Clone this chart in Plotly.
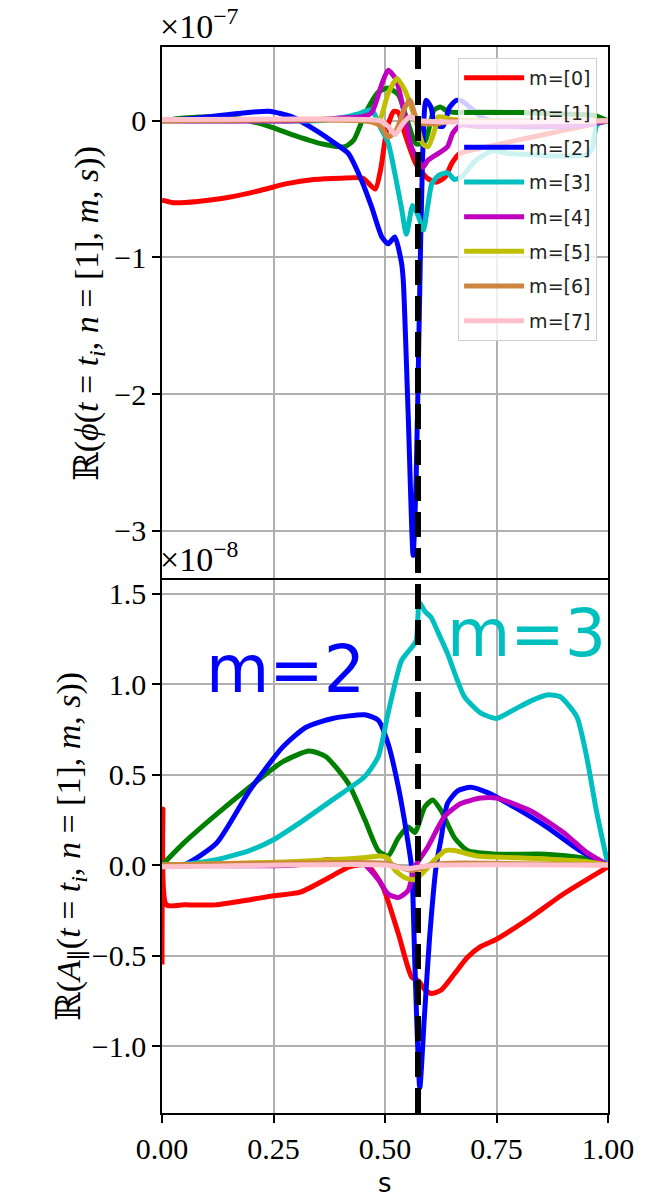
import plotly.graph_objects as go
from plotly.subplots import make_subplots

# ---- radial position of the resonant surface ----
S_RES = 0.574

LABELS = ["m=[0]", "m=[1]", "m=[2]", "m=[3]", "m=[4]", "m=[5]", "m=[6]", "m=[7]"]
COLORS = ["#ff0000", "#008000", "#0000ff", "#00bfbf", "#bf00bf", "#bfbf00", "#cd853f", "#ffc0cb"]

# ---- Re(phi) per poloidal mode, units of 1e-7 ----
PHI_S0 = [0, 0.03, 0.08, 0.15, 0.22, 0.28, 0.34, 0.40, 0.45, 0.478, 0.49, 0.505, 0.52, 0.53, 0.545, 0.57, 0.595, 0.615, 0.635, 0.65, 0.667, 0.70, 0.80, 0.90, 0.96, 1.0]
PHI_M0 = [-0.58, -0.60, -0.59, -0.56, -0.51, -0.46, -0.43, -0.42, -0.42, -0.50, -0.36, -0.05, 0.07, 0.06, -0.10, -0.32, -0.42, -0.45, -0.41, -0.31, -0.24, -0.21, -0.14, -0.07, -0.03, 0.0]

PHI_S1 = [0, 0.05, 0.12, 0.18, 0.24, 0.30, 0.36, 0.41, 0.43, 0.455, 0.485, 0.507, 0.53, 0.55, 0.57, 0.59, 0.61, 0.625, 0.64, 0.66, 0.70, 0.80, 0.90, 0.97, 1.0]
PHI_M1 = [0, 0.02, 0.03, 0.01, -0.04, -0.11, -0.17, -0.19, -0.14, 0.05, 0.21, 0.24, 0.19, 0.0, -0.17, -0.15, 0.08, 0.10, 0.07, 0.06, 0.07, 0.06, 0.05, 0.04, 0.0]

PHI_S2 = [0, 0.08, 0.16, 0.24, 0.29, 0.345, 0.39, 0.418, 0.448, 0.47, 0.493, 0.507, 0.522, 0.537, 0.541, 0.552, 0.563, 0.570, 0.577, 0.584, 0.592, 0.603, 0.612, 0.63, 0.645, 0.66, 0.675, 0.72, 0.79, 0.90, 0.97, 1.0]
PHI_M2 = [0, 0.02, 0.05, 0.07, 0.03, -0.07, -0.17, -0.24, -0.44, -0.63, -0.85, -0.90, -0.85, -1.04, -1.17, -2.15, -3.18, -2.60, -1.40, -0.30, 0.15, 0.10, -0.03, -0.04, 0.10, 0.15, 0.14, 0.02, -0.04, -0.04, -0.02, 0.0]

PHI_S3 = [0, 0.2, 0.35, 0.40, 0.44, 0.47, 0.49, 0.507, 0.523, 0.537, 0.548, 0.562, 0.575, 0.586, 0.596, 0.605, 0.62, 0.64, 0.656, 0.675, 0.70, 0.74, 0.78, 0.95, 0.965, 0.975, 1.0]
PHI_M3 = [0, 0, 0, 0.02, 0.05, 0.08, -0.05, -0.16, -0.40, -0.64, -0.83, -0.62, -0.70, -0.80, -0.62, -0.46, -0.40, -0.38, -0.43, -0.40, -0.30, -0.22, -0.24, -0.25, -0.20, -0.03, 0.0]

PHI_S4 = [0, 0.30, 0.40, 0.45, 0.47, 0.493, 0.507, 0.525, 0.545, 0.559, 0.574, 0.585, 0.596, 0.619, 0.64, 0.652, 0.67, 0.70, 0.80, 0.95, 1.0]
PHI_M4 = [0, 0.0, 0.02, 0.03, 0.06, 0.27, 0.37, 0.30, 0.03, -0.19, -0.29, -0.34, -0.29, -0.24, -0.19, -0.09, -0.03, -0.04, -0.04, -0.03, 0.0]

PHI_S5 = [0, 0.40, 0.47, 0.485, 0.507, 0.527, 0.545, 0.559, 0.574, 0.585, 0.597, 0.612, 0.62, 0.65, 0.80, 1.0]
PHI_M5 = [0, 0.01, 0.0, -0.02, 0.20, 0.31, 0.22, 0.10, -0.05, -0.17, -0.19, -0.06, 0.03, 0.01, 0.0, 0.0]

PHI_S6 = [0, 0.45, 0.48, 0.493, 0.507, 0.525, 0.545, 0.556, 0.57, 0.585, 0.62, 0.65, 0.80, 1.0]
PHI_M6 = [0, 0.0, -0.02, -0.05, -0.12, -0.07, 0.10, 0.15, 0.02, -0.02, -0.02, 0.0, 0.0, 0.0]

PHI_S7 = [0, 0.45, 0.49, 0.507, 0.523, 0.54, 0.556, 0.58, 1.0]
PHI_M7 = [0.01, 0.01, 0.0, -0.04, -0.10, -0.02, 0.03, 0.0, 0.0]

# ---- Re(A_par) per poloidal mode, units of 1e-8 ----
APAR_S0 = [0, 0.002, 0.01, 0.05, 0.12, 0.20, 0.25, 0.31, 0.374, 0.42, 0.46, 0.495, 0.53, 0.56, 0.575, 0.59, 0.604, 0.626, 0.656, 0.685, 0.715, 0.75, 0.826, 0.90, 1.0]
APAR_M0 = [-0.55, 0.31, -0.22, -0.22, -0.22, -0.19, -0.17, -0.15, -0.07, -0.01, 0.0, -0.12, -0.38, -0.62, -0.64, -0.69, -0.71, -0.69, -0.60, -0.51, -0.45, -0.41, -0.29, -0.16, -0.01]

APAR_S1 = [0, 0.048, 0.122, 0.196, 0.27, 0.33, 0.367, 0.418, 0.455, 0.485, 0.507, 0.53, 0.552, 0.567, 0.589, 0.607, 0.626, 0.656, 0.685, 0.75, 0.86, 0.94, 1.0]
APAR_M1 = [0, 0.12, 0.28, 0.43, 0.57, 0.63, 0.60, 0.45, 0.25, 0.08, 0.05, 0.15, 0.21, 0.18, 0.32, 0.36, 0.30, 0.15, 0.08, 0.06, 0.06, 0.04, 0.0]

APAR_S2 = [0, 0.048, 0.122, 0.196, 0.27, 0.322, 0.382, 0.455, 0.485, 0.507, 0.53, 0.552, 0.56, 0.567, 0.578, 0.588, 0.60, 0.615, 0.626, 0.64, 0.663, 0.692, 0.73, 0.79, 0.863, 0.937, 1.0]
APAR_M2 = [0, 0.0, 0.12, 0.41, 0.65, 0.76, 0.81, 0.83, 0.80, 0.67, 0.43, 0.12, -0.02, -0.55, -1.23, -0.85, -0.40, 0.0, 0.15, 0.34, 0.41, 0.43, 0.40, 0.32, 0.21, 0.08, 0.0]

APAR_S3 = [0, 0.05, 0.122, 0.196, 0.25, 0.307, 0.382, 0.455, 0.485, 0.507, 0.537, 0.559, 0.57, 0.577, 0.59, 0.603, 0.62, 0.64, 0.678, 0.715, 0.75, 0.79, 0.83, 0.863, 0.893, 0.93, 0.952, 0.974, 1.0]
APAR_M3 = [0, 0.005, 0.03, 0.08, 0.14, 0.23, 0.36, 0.49, 0.60, 0.84, 1.13, 1.20, 1.24, 1.45, 1.40, 1.37, 1.28, 1.17, 0.93, 0.84, 0.81, 0.86, 0.91, 0.94, 0.93, 0.82, 0.60, 0.30, 0.0]

APAR_S4 = [0, 0.30, 0.374, 0.45, 0.485, 0.507, 0.53, 0.552, 0.567, 0.596, 0.634, 0.67, 0.715, 0.75, 0.826, 0.90, 0.952, 1.0]
APAR_M4 = [0, 0.0, 0.03, 0.01, -0.08, -0.16, -0.18, -0.14, -0.01, 0.10, 0.27, 0.34, 0.37, 0.37, 0.30, 0.18, 0.07, 0.0]

APAR_S5 = [0, 0.30, 0.45, 0.49, 0.505, 0.523, 0.545, 0.567, 0.59, 0.612, 0.635, 0.656, 0.707, 0.80, 0.95, 1.0]
APAR_M5 = [0, 0.02, 0.04, 0.05, 0.04, -0.03, -0.07, -0.08, -0.03, 0.03, 0.08, 0.08, 0.05, 0.04, 0.02, 0.0]

APAR_S6 = [0, 0.50, 0.53, 0.56, 0.58, 0.60, 0.65, 1.0]
APAR_M6 = [0, 0.01, -0.01, -0.03, -0.02, 0.0, 0.01, 0.0]

APAR_S7 = [0, 0.50, 0.55, 0.58, 0.62, 1.0]
APAR_M7 = [-0.01, 0.0, -0.02, -0.01, 0.0, 0.0]

PHI = [(PHI_S0, PHI_M0), (PHI_S1, PHI_M1), (PHI_S2, PHI_M2), (PHI_S3, PHI_M3),
       (PHI_S4, PHI_M4), (PHI_S5, PHI_M5), (PHI_S6, PHI_M6), (PHI_S7, PHI_M7)]
APAR = [(APAR_S0, APAR_M0), (APAR_S1, APAR_M1), (APAR_S2, APAR_M2), (APAR_S3, APAR_M3),
        (APAR_S4, APAR_M4), (APAR_S5, APAR_M5), (APAR_S6, APAR_M6), (APAR_S7, APAR_M7)]

X_TICKS = [0, 0.25, 0.5, 0.75, 1.0]
PHI_TICKS = [0, -1, -2, -3]
APAR_TICKS = [-1.0, -0.5, 0.0, 0.5, 1.0, 1.5]

SERIF = "Liberation Serif, DejaVu Serif, serif"
SANS = "DejaVu Sans, sans-serif"

fig = make_subplots(rows=2, cols=1, shared_xaxes=True, vertical_spacing=0)

LW = 5
for i, (s, v) in enumerate(PHI):
    fig.add_trace(go.Scatter(x=s, y=v, mode="lines", name=LABELS[i], legendgroup=LABELS[i],
                             line=dict(color=COLORS[i], width=LW, shape="spline", smoothing=0.6)),
                  row=1, col=1)
for i, (s, v) in enumerate(APAR):
    fig.add_trace(go.Scatter(x=s, y=v, mode="lines", name=LABELS[i], legendgroup=LABELS[i],
                             showlegend=False,
                             line=dict(color=COLORS[i], width=LW, shape="spline", smoothing=0.6)),
                  row=2, col=1)

# resonant surface marker through both panels
fig.add_shape(type="line", xref="x", yref="paper", x0=S_RES, x1=S_RES, y0=0, y1=1,
              line=dict(color="black", width=6, dash="25px,11px"), layer="above")

grid = dict(showgrid=True, gridcolor="#b0b0b0", gridwidth=1.5, zeroline=False)
frame = dict(showline=True, linecolor="black", linewidth=1.5)

# top panel: only its upper spine on the x axis, the shared spine comes from the lower panel
fig.update_xaxes(range=[0, 1], tickvals=X_TICKS, ticks="", showticklabels=False,
                 side="top", mirror=False, row=1, col=1, **grid, **frame)
fig.update_xaxes(range=[0, 1], tickvals=X_TICKS, mirror=True,
                 ticks="outside", ticklen=8, tickwidth=1.5, tickcolor="black",
                 tickformat=".2f", tickfont=dict(family=SERIF, size=30, color="black"),
                 row=2, col=1, **grid, **frame)

fig.update_yaxes(range=[-3.36, 0.54], tickvals=PHI_TICKS, tickformat="d", mirror=True,
                 ticks="outside", ticklen=8, tickwidth=1.5, tickcolor="black",
                 tickfont=dict(family=SERIF, size=30, color="black"),
                 row=1, col=1, **grid, **frame)
fig.update_yaxes(range=[-1.37, 1.575], tickvals=APAR_TICKS, tickformat=".1f", mirror=True,
                 ticks="outside", ticklen=8, tickwidth=1.5, tickcolor="black",
                 tickfont=dict(family=SERIF, size=30, color="black"),
                 row=2, col=1, **grid, **frame)

ann = [
    dict(text="×10<sup>−7</sup>", x=0, y=1, xref="paper", yref="paper", xanchor="left",
         yanchor="bottom", showarrow=False, xshift=-4, font=dict(family=SERIF, size=34, color="black")),
    dict(text="×10<sup>−8</sup>", x=0, y=0.5, xref="paper", yref="paper", xanchor="left",
         yanchor="bottom", showarrow=False, xshift=-4, font=dict(family=SERIF, size=34, color="black")),
    dict(text="ℝ(<i>ϕ</i>(<i>t</i> = <i>t<sub>i</sub></i>, <i>n</i> = [1], <i>m</i>, <i>s</i>))",
         x=0, y=0.75, xref="paper", yref="paper", xshift=-74, textangle=-90, showarrow=False,
         xanchor="center", yanchor="middle", font=dict(family=SERIF, size=34, color="black")),
    dict(text="ℝ(<i>A</i><sub>∥</sub>(<i>t</i> = <i>t<sub>i</sub></i>, <i>n</i> = [1], <i>m</i>, <i>s</i>))",
         x=0, y=0.25, xref="paper", yref="paper", xshift=-92, textangle=-90, showarrow=False,
         xanchor="center", yanchor="middle", font=dict(family=SERIF, size=34, color="black")),
    dict(text="s", x=0.5, y=0, xref="paper", yref="paper", yshift=-70, showarrow=False,
         xanchor="center", yanchor="middle", font=dict(family=SANS, size=26, color="black")),
    dict(text="m=2", x=0.278, y=1.08, xref="x2", yref="y2", showarrow=False,
         xanchor="center", yanchor="middle", font=dict(family=SANS, size=65, color="#0000ff")),
    dict(text="m=3", x=0.818, y=1.28, xref="x2", yref="y2", showarrow=False,
         xanchor="center", yanchor="middle", font=dict(family=SANS, size=65, color="#00bfbf")),
]

fig.update_layout(
    width=646, height=1201,
    margin=dict(l=162, r=34, t=47, b=88),
    plot_bgcolor="white", paper_bgcolor="white",
    font=dict(family=SERIF, color="black"),
    annotations=ann,
    legend=dict(x=0.9756, y=0.9897, xanchor="right", yanchor="top",
                bgcolor="rgba(255,255,255,0.8)", bordercolor="#d0d0d0", borderwidth=1,
                font=dict(family=SANS, size=19, color="#222222"),
                tracegroupgap=7, itemwidth=60),
)

fig.write_html("out.html")
